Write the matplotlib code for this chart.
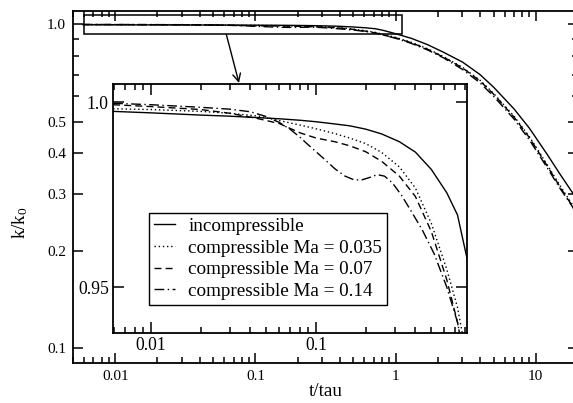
import matplotlib
matplotlib.use('Agg')
import matplotlib.pyplot as plt
from matplotlib.patches import Rectangle
from matplotlib.ticker import FixedLocator, LogLocator, NullFormatter, FuncFormatter

plt.rcParams['font.family'] = ['Liberation Serif', 'DejaVu Serif']
plt.rcParams['mathtext.fontset'] = 'custom'
plt.rcParams['mathtext.rm'] = 'Liberation Serif'
plt.rcParams['mathtext.default'] = 'regular'

# decay of kinetic energy, k/k0 against t/tau
t_inc = [0.0059, 0.01, 0.02, 0.03, 0.045, 0.06, 0.08, 0.1, 0.13, 0.16, 0.2, 0.25, 0.32,
         0.4, 0.5, 0.62, 0.72, 0.82, 1.0, 1.3, 1.7, 2.2, 3.0, 4.0, 5.0, 7.0, 9.0, 12.0,
         15.0, 18.0, 20.0]
k_inc = [0.9975, 0.9971, 0.9965, 0.9962, 0.9958, 0.9955, 0.9951, 0.9947, 0.9941, 0.9936,
         0.9927, 0.9914, 0.9893, 0.9865, 0.9818, 0.9755, 0.9695, 0.958, 0.936, 0.905,
         0.865, 0.82, 0.765, 0.70, 0.640, 0.548, 0.478, 0.398, 0.343, 0.305, 0.287]

t_ma035 = t_inc
k_ma035 = [0.9982, 0.9980, 0.9975, 0.9970, 0.9962, 0.9950, 0.9938, 0.9928, 0.9915, 0.9903,
           0.9888, 0.9864, 0.9825, 0.9768, 0.9672, 0.9548, 0.9445, 0.931, 0.912, 0.880,
           0.840, 0.795, 0.737, 0.672, 0.612, 0.520, 0.450, 0.370, 0.316, 0.280, 0.261]

t_ma07 = t_inc
k_ma07 = [0.9993, 0.9988, 0.9980, 0.9970, 0.9955, 0.9942, 0.9917, 0.9903, 0.9893, 0.9882,
          0.9866, 0.9840, 0.9800, 0.9745, 0.9650, 0.9520, 0.9405, 0.927, 0.909, 0.877,
          0.837, 0.792, 0.734, 0.669, 0.609, 0.517, 0.447, 0.367, 0.313, 0.277, 0.258]

t_ma14 = [0.0059, 0.01, 0.02, 0.03, 0.04, 0.05, 0.06, 0.07, 0.08, 0.09, 0.1, 0.115, 0.13,
          0.15, 0.17, 0.19, 0.21, 0.235, 0.26, 0.29, 0.33, 0.38, 0.44, 0.52, 0.62, 0.72,
          0.82, 1.0, 1.3, 1.7, 2.2, 3.0, 4.0, 5.0, 7.0, 9.0, 12.0, 15.0, 18.0, 20.0]
k_ma14 = [0.9997, 0.9993, 0.9986, 0.9981, 0.9974, 0.9961, 0.9945, 0.9926, 0.9905, 0.9884,
          0.9866, 0.9842, 0.9820, 0.9800, 0.9790, 0.9790, 0.9796, 0.9804, 0.9800, 0.9782,
          0.9748, 0.9703, 0.9655, 0.9590, 0.9500, 0.9405, 0.927, 0.906, 0.873, 0.833,
          0.788, 0.726, 0.660, 0.600, 0.510, 0.440, 0.362, 0.310, 0.276, 0.256]

labels = ['incompressible', 'compressible Ma = 0.035',
          'compressible Ma = 0.07', 'compressible Ma = 0.14']

series = [(t_inc, k_inc, dict(linestyle='-')),
          (t_ma035, k_ma035, dict(dashes=(1, 2))),
          (t_ma07, k_ma07, dict(dashes=(5, 3))),
          (t_ma14, k_ma14, dict(dashes=(7, 2.5, 1, 2.5)))]

fig = plt.figure(figsize=(5.73, 4.03), dpi=100)

# main axes
ax = fig.add_axes([73 / 573, 40 / 403, 505 / 573, 352 / 403])
for (t, k, style), lab in zip(series, labels):
    ax.plot(t, k, color='black', lw=1.0, **style)
ax.set_xscale('log')
ax.set_yscale('log')
ax.set_xlim(0.005, 20)
ax.set_ylim(0.09, 1.1)
ax.yaxis.set_major_locator(FixedLocator([0.1, 0.2, 0.3, 0.4, 0.5, 1.0]))
ax.yaxis.set_minor_locator(FixedLocator([0.6, 0.7, 0.8, 0.9]))
ax.yaxis.set_major_formatter(FuncFormatter(lambda v, p: '%.1f' % v))
ax.yaxis.set_minor_formatter(NullFormatter())
ax.xaxis.set_major_locator(LogLocator(base=10))
ax.xaxis.set_minor_locator(LogLocator(base=10, subs=range(2, 10)))
ax.xaxis.set_major_formatter(FuncFormatter(lambda v, p: '%g' % v))
ax.xaxis.set_minor_formatter(NullFormatter())
ax.tick_params(which='both', direction='in', top=True, right=True, labelsize=11, width=1.1)
ax.tick_params(which='major', length=7, pad=5)
ax.tick_params(which='minor', length=4)
for s in ax.spines.values():
    s.set_linewidth(1.3)
ax.set_xlabel('t/tau', fontsize=13.8, labelpad=0)
ax.set_ylabel('k/k$_0$', fontsize=13.8)
ax.yaxis.set_label_coords(-0.085, 0.40)

# region enlarged in the inset
ax.add_patch(Rectangle((0.006, 0.932), 1.12 - 0.006, 1.066 - 0.932,
                       fill=False, edgecolor='black', lw=1.1))
ax.annotate('', xy=(239 / 573, 1 - 83 / 403), xycoords='figure fraction',
            xytext=(0.062, 0.932), textcoords='data',
            arrowprops=dict(arrowstyle='->', color='black', lw=1.0,
                            mutation_scale=14, shrinkA=0, shrinkB=0))

# inset
ins = fig.add_axes([113 / 573, 70 / 403, 354 / 573, 249 / 403])
for (t, k, style), lab in zip(series, labels):
    ins.plot(t, k, color='black', lw=1.0, label=lab, **style)
ins.set_xscale('log')
ins.set_xlim(0.00589, 0.822)
ins.set_ylim(0.9376, 1.0049)
ins.yaxis.set_major_locator(FixedLocator([0.95, 1.0]))
ins.yaxis.set_major_formatter(FuncFormatter(lambda v, p: '%g' % v if v < 1 else '1.0'))
ins.xaxis.set_major_locator(LogLocator(base=10))
ins.xaxis.set_minor_locator(LogLocator(base=10, subs=range(2, 10)))
ins.xaxis.set_major_formatter(FuncFormatter(lambda v, p: '%g' % v))
ins.xaxis.set_minor_formatter(NullFormatter())
ins.tick_params(which='both', direction='in', top=True, right=True, labelsize=12.7, width=1.1)
ins.tick_params(which='major', length=8, pad=3)
ins.tick_params(which='minor', length=4)
for s in ins.spines.values():
    s.set_linewidth(1.3)

leg = ins.legend(loc='upper left', bbox_to_anchor=(149 / 573, 1 - 213 / 403),
                 bbox_transform=fig.transFigure, fontsize=13.8, frameon=True,
                 fancybox=False, framealpha=1, edgecolor='black', handlelength=1.1,
                 handletextpad=0.7, labelspacing=0.22, borderpad=0.25, borderaxespad=0)
leg.get_frame().set_linewidth(1.0)

fig.savefig('out.png', dpi=100)
